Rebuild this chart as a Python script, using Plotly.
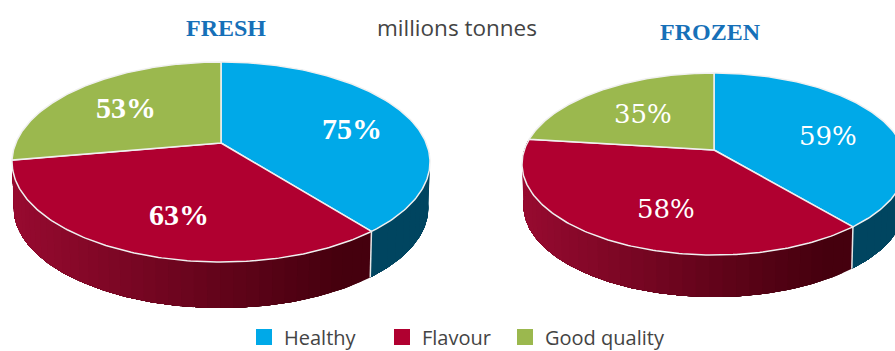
import numpy as np
import plotly.graph_objects as go

# Survey shares per product type; slice sizes are proportional to these
categories = ["Healthy", "Flavour", "Good quality"]
fresh_values = [75, 63, 53]
frozen_values = [59, 58, 35]

top_colors = ["#00a9e8", "#b00030", "#9bb84e"]
wall_dark = ["#004560", "#45000e", "#5f7a2a"]
wall_light = ["#00526f", "#980a30", "#7d9a3c"]

TEXT_GREY = "#444444"
TITLE_BLUE = "#1670b8"
SERIF = "Liberation Serif"
SANS = "Open Sans"


def project(theta, tilt, cx, cy, rx, ry):
    """Map clockwise-from-top angles on a flat disc onto a tilted ellipse."""
    u, v = np.sin(theta), np.cos(theta)
    denom = 1 + tilt * v
    return (cx + rx * u * np.sqrt(1 - tilt**2) / denom,
            cy - ry * (v + tilt) / denom)


def lerp_color(a, b, f):
    ca = [int(a[i:i + 2], 16) for i in (1, 3, 5)]
    cb = [int(b[i:i + 2], 16) for i in (1, 3, 5)]
    return "rgb({},{},{})".format(*[round(p + (q - p) * f) for p, q in zip(ca, cb)])


def add_pie(fig, values, cx, cy, rx, ry, tilt, depth):
    edges = np.concatenate([[0], np.cumsum(values)]) / sum(values) * 2 * np.pi
    scale = 0.992

    # Side wall of the slices facing the viewer. Each band runs to the end of
    # its slice and is painted over by the next, which gives a seamless shade.
    for i in range(len(values) - 1):
        thetas = np.linspace(edges[i], edges[i + 1], 160)
        xs, ys = project(thetas, tilt, cx, cy, rx, ry)
        for j in range(0, len(thetas) - 1, 4):
            sx, sy = xs[j:], ys[j:]
            if sy[0] < cy - 30 and i == 0:
                continue
            f = np.clip((sx[0] - (cx - rx)) / (1.6 * rx), 0, 1)
            colour = lerp_color(wall_light[i], wall_dark[i], f)
            fig.add_trace(go.Scatter(
                x=np.concatenate([sx, cx + (sx[::-1] - cx) * scale]),
                y=np.concatenate([sy, sy[::-1] + depth]),
                mode="lines", fill="toself", fillcolor=colour,
                line=dict(width=0), hoverinfo="skip", showlegend=False))

    # Thin highlight where the blue and red walls meet
    tx, ty = project(edges[1], tilt, cx, cy, rx, ry)
    fig.add_trace(go.Scatter(
        x=[tx, cx + (tx - cx) * scale], y=[ty, ty + depth], mode="lines",
        line=dict(color="#e6e6e6", width=1.5), hoverinfo="skip", showlegend=False))

    # Top faces
    apex_x, apex_y = cx, cy - ry * tilt
    for i, cat in enumerate(categories):
        thetas = np.linspace(edges[i], edges[i + 1], 160)
        xs, ys = project(thetas, tilt, cx, cy, rx, ry)
        fig.add_trace(go.Scatter(
            x=np.concatenate([[apex_x], xs, [apex_x]]),
            y=np.concatenate([[apex_y], ys, [apex_y]]),
            mode="lines", fill="toself", fillcolor=top_colors[i],
            line=dict(color="#f0f0f0", width=1.5),
            name=cat, text=f"{cat}: {values[i]}%", hoverinfo="text", showlegend=False))


fig = go.Figure()
add_pie(fig, fresh_values, 221, 162, 209, 100, 0.19, 46)
add_pie(fig, frozen_values, 714, 164, 192, 91, 0.154, 42)

# Each key sits in its own legend box so the spacing can be set per entry
legend_ids = ["legend", "legend2", "legend3"]
legend_left = [244, 382, 505]
for cat, colour, lid in zip(categories, top_colors, legend_ids):
    fig.add_trace(go.Scatter(
        x=[None], y=[None], mode="markers", name=cat, legend=lid,
        marker=dict(symbol="square", size=16, color=colour)))

annotations = []


def label(x, y, text, size, color, family, bold=False):
    annotations.append(dict(
        x=x, y=y, text=f"<b>{text}</b>" if bold else text, showarrow=False,
        xanchor="center", yanchor="middle",
        font=dict(size=size, color=color, family=family)))


label(226, 28, "FRESH", 24, TITLE_BLUE, SERIF, True)
label(710, 32, "FROZEN", 24, TITLE_BLUE, SERIF, True)
label(457, 27, "millions tonnes", 22.5, TEXT_GREY, SANS)

fresh_spots = [(352, 128), (179, 214), (126, 107)]
frozen_spots = [(828, 136), (666, 209), (643, 114)]
for v, (x, y) in zip(fresh_values, fresh_spots):
    label(x, y, f"{v}%", 30, "white", SERIF, True)
for v, (x, y) in zip(frozen_values, frozen_spots):
    label(x, y, f"{v}%", 26, "white", "DejaVu Serif")

fig.update_layout(
    width=895, height=351, margin=dict(l=0, r=0, t=0, b=0, autoexpand=False),
    paper_bgcolor="white", plot_bgcolor="white",
    xaxis=dict(range=[0, 895], visible=False, fixedrange=True),
    yaxis=dict(range=[351, 0], visible=False, fixedrange=True),
    annotations=annotations,
)
for lid, left in zip(legend_ids, legend_left):
    fig.update_layout({lid: dict(
        orientation="h", x=left / 895, xanchor="left", y=14 / 351, yanchor="middle",
        font=dict(size=20, color=TEXT_GREY, family=SANS),
        itemsizing="trace", bgcolor="rgba(0,0,0,0)")})

fig.write_html("out.html", config=dict(displayModeBar=False))
